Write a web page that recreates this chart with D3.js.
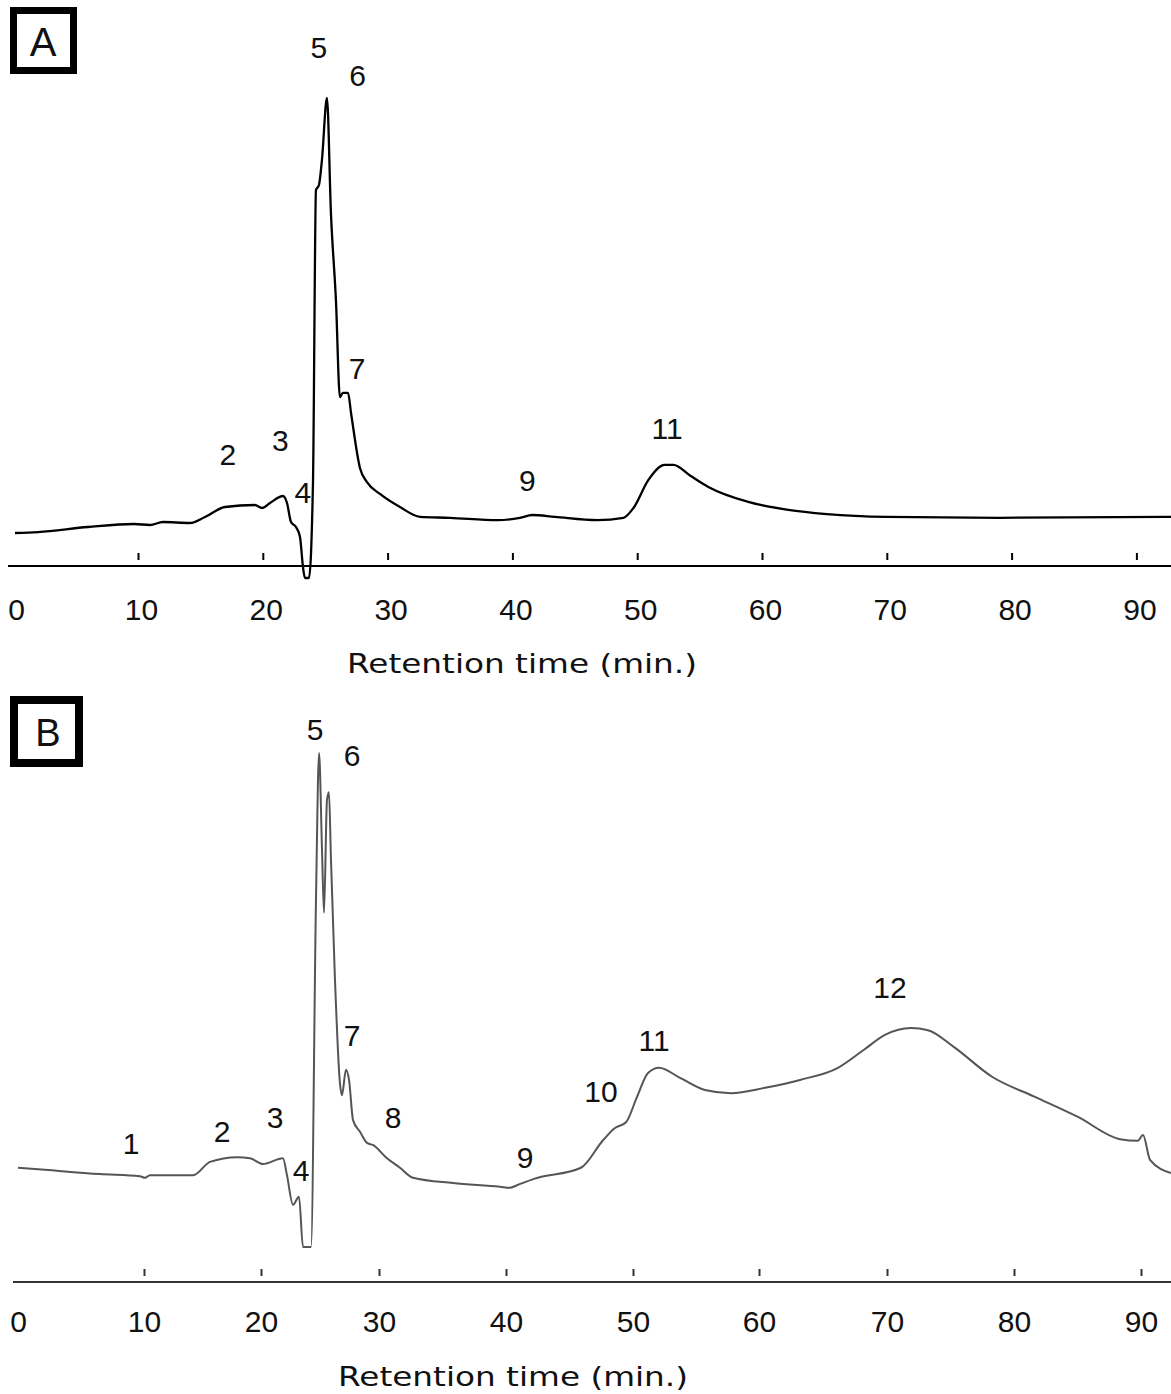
<html>

<head>
    <meta charset="utf-8">
    <title>Retention time chromatograms</title>
    <style>
        body { margin: 0; background: #fff; }
    </style>
</head>

<body>
    <script src="https://cdn.jsdelivr.net/npm/d3@7"></script>
    <script>
        var width = 1171;
        var height = 1394;

        // tick labels (min.)
        var tickValues = [0, 10, 20, 30, 40, 50, 60, 70, 80, 90];

        // chromatogram A : time (min.) and detector signal (relative)
        var timeA = [0.14, 1.99, 5.99, 9.68, 10.97, 12.0, 14.17, 15.37, 16.97, 19.37, 19.94, 20.58, 21.62, 21.94,
            22.26, 22.66, 22.98, 23.22, 23.38, 23.70, 24.02, 24.26, 24.50, 24.74, 25.14, 25.46, 25.86, 26.18,
            26.42, 26.83, 27.07, 27.79, 28.35, 29.39, 30.99, 32.6, 35.0, 38.8, 40.6, 41.6, 43.4, 46.8, 48.9,
            49.7, 50.9, 52.2, 52.9, 54.2, 55.7, 58.9, 62.1, 65.2, 70.0, 79.0, 92.8];
        var signalA = [7.05, 7.26, 8.33, 8.97, 8.76, 9.40, 9.19, 10.47, 12.61, 13.03, 12.39, 13.46, 14.96, 13.46,
            9.40, 8.33, 6.20, -0.21, -2.56, -2.56, 17.7, 80.3, 81.4, 86.8, 100, 75.4, 56.8, 36.1,
            37.0, 37.0, 32.7, 20.9, 17.9, 15.4, 12.6, 10.5, 10.3, 9.8, 10.3, 10.9, 10.5, 9.8, 10.3,
            12.4, 18.4, 21.6, 21.6, 19.4, 16.9, 13.7, 12.0, 11.1, 10.5, 10.3, 10.5];

        // chromatogram B
        var timeB = [0, 2.14, 6.5, 9.68, 10.09, 10.5, 14.2, 15.64, 17.95, 19.06, 20.17, 21.86, 22.2, 22.71,
            23.22, 23.56, 24.24, 24.66, 24.92, 25.17, 25.34, 25.59, 25.76, 25.93, 26.27, 26.69, 26.86, 27.2,
            27.46, 27.8, 28.39, 28.98, 29.48, 30.63, 31.65, 32.68, 35.83, 39.53, 40.31, 40.87, 42.2, 45.9,
            47.64, 48.58, 49.45, 50.32, 51.19, 52.06, 53.73, 55.71, 57.78, 60.47, 63.2, 66.17, 68.2, 69.84,
            71.89, 73.23, 75.28, 78.27, 81.65, 85.04, 88.35, 89.76, 90.16, 90.71, 92.36];
        var signalB = [21.6, 21.2, 20.4, 20.0, 19.7, 20.2, 20.2, 22.7, 23.6, 23.4, 22.3, 23.4, 20.2, 14.6,
            16.1, 6.6, 6.6, 72.2, 100, 81.7, 69.8, 91.1, 92.6, 79.8, 57.1, 37.6, 35.3, 40.1,
            38.2, 30.6, 28.4, 26.3, 25.9, 23.4, 21.6, 19.7, 18.7, 18.0, 17.8, 18.3, 19.5, 21.6,
            26.8, 29.1, 30.2, 35.0, 39.5, 40.5, 38.6, 36.3, 35.7, 36.7, 38.2, 40.5, 43.9, 46.7,
            48.0, 47.6, 44.4, 38.8, 35.0, 31.2, 27.0, 26.7, 27.8, 23.1, 20.6];

        // peak numbers and where they are written (time, signal)
        var peakNamesA = ["2", "3", "4", "5", "6", "7", "9", "11"];
        var peakTimeA = [17.2, 21.4, 23.2, 24.5, 27.6, 27.55, 41.2, 52.4];
        var peakLevelA = [23.9, 26.9, 15.8, 110.9, 104.9, 42.3, 18.4, 29.5];

        var peakNamesB = ["1", "2", "3", "4", "5", "6", "7", "8", "9", "10", "11", "12"];
        var peakTimeB = [8.97, 16.67, 21.19, 23.39, 24.58, 27.71, 27.71, 31.1, 41.5, 47.48, 51.67, 70.24];
        var peakLevelB = [26.3, 28.5, 31.2, 21.2, 104.5, 99.6, 46.7, 31.2, 23.6, 36.1, 45.7, 55.8];

        var svg = d3.select("body")
            .append("svg")
            .attr("width", width)
            .attr("height", height);

        // panel settings; the B trace was pasted together so its time axis is not quite even
        var panels = [
            {
                name: "A", time: timeA, signal: signalA,
                peaks: peakNamesA, peakT: peakTimeA, peakV: peakLevelA,
                x: d3.scaleLinear().domain([0, 90]).range([13.2, 1136.4]),
                y: d3.scaleLinear().domain([0, 100]).range([566, 98]),
                axisY: 566, axisX0: 8, lineColor: "#000", lineWidth: 2.3, axisColor: "#000",
                labelPad: 33, labelDx: 3, titleX: 522, titleY: 673,
                box: [13.5, 10.5, 60, 60, 7], letter: [43, 42, 40]
            },
            {
                name: "B", time: timeB, signal: signalB,
                peaks: peakNamesB, peakT: peakTimeB, peakV: peakLevelB,
                x: d3.scaleLinear().domain(tickValues).range([18, 144, 261, 379, 506, 633, 759, 887, 1014, 1141]),
                y: d3.scaleLinear().domain([0, 100]).range([1282, 753]),
                axisY: 1282, axisX0: 13, lineColor: "#555", lineWidth: 2, axisColor: "#333",
                labelPad: 29, labelDx: 0, titleX: 513, titleY: 1386,
                box: [14, 700, 65, 63, 8], letter: [48, 732, 38]
            }
        ];

        panels.forEach(function (p) {
            var g = svg.append("g");

            // base line
            g.append("line")
                .attr("x1", p.axisX0)
                .attr("x2", width)
                .attr("y1", p.axisY)
                .attr("y2", p.axisY)
                .attr("stroke", p.axisColor)
                .attr("stroke-width", 2);

            // ticks and numbers
            var axis = d3.axisBottom(p.x)
                .tickValues(tickValues)
                .tickSize(-7)
                .tickPadding(p.labelPad)
                .tickFormat(d3.format("d"));
            var ax = g.append("g")
                .attr("transform", "translate(0," + p.axisY + ")")
                .call(axis);
            ax.select(".domain").remove();
            ax.selectAll(".tick line")
                .attr("y1", -6)
                .attr("y2", -13)
                .attr("stroke", p.axisColor)
                .attr("stroke-width", 2)
                .attr("display", function (d) { return d === 0 ? "none" : null; });
            ax.selectAll(".tick text")
                .attr("dx", p.labelDx)
                .attr("fill", "#111")
                .style("font-family", "'Liberation Sans', Arial, sans-serif")
                .style("font-size", "30px");

            g.append("text")
                .attr("x", p.titleX)
                .attr("y", p.titleY)
                .attr("text-anchor", "middle")
                .attr("textLength", 350)
                .attr("lengthAdjust", "spacingAndGlyphs")
                .style("font-family", "'DejaVu Sans', sans-serif")
                .style("font-size", "27px")
                .attr("fill", "#111")
                .text("Retention time (min.)");

            // trace
            var pts = d3.zip(p.time, p.signal);
            var line = d3.line()
                .curve(d3.curveMonotoneX)
                .x(function (d) { return p.x(d[0]); })
                .y(function (d) { return p.y(d[1]); });
            g.append("path")
                .datum(pts)
                .attr("d", line)
                .attr("fill", "none")
                .attr("stroke", p.lineColor)
                .attr("stroke-width", p.lineWidth)
                .attr("stroke-linejoin", "round");

            // peak numbers
            g.selectAll(".peak")
                .data(p.peaks)
                .enter()
                .append("text")
                .attr("class", "peak")
                .attr("x", function (d, i) { return p.x(p.peakT[i]); })
                .attr("y", function (d, i) { return p.y(p.peakV[i]); })
                .attr("dy", "0.36em")
                .attr("text-anchor", "middle")
                .style("font-family", "'Liberation Sans', Arial, sans-serif")
                .style("font-size", "30px")
                .attr("fill", "#111")
                .text(function (d) { return d; });

            // panel letter in a heavy box
            g.append("rect")
                .attr("x", p.box[0])
                .attr("y", p.box[1])
                .attr("width", p.box[2])
                .attr("height", p.box[3])
                .attr("fill", "#fff")
                .attr("stroke", "#000")
                .attr("stroke-width", p.box[4]);
            g.append("text")
                .attr("x", p.letter[0])
                .attr("y", p.letter[1])
                .attr("dy", "0.36em")
                .attr("text-anchor", "middle")
                .style("font-family", "'Liberation Sans', Arial, sans-serif")
                .style("font-size", p.letter[2] + "px")
                .attr("fill", "#111")
                .text(p.name);
        });
    </script>
</body>

</html>
